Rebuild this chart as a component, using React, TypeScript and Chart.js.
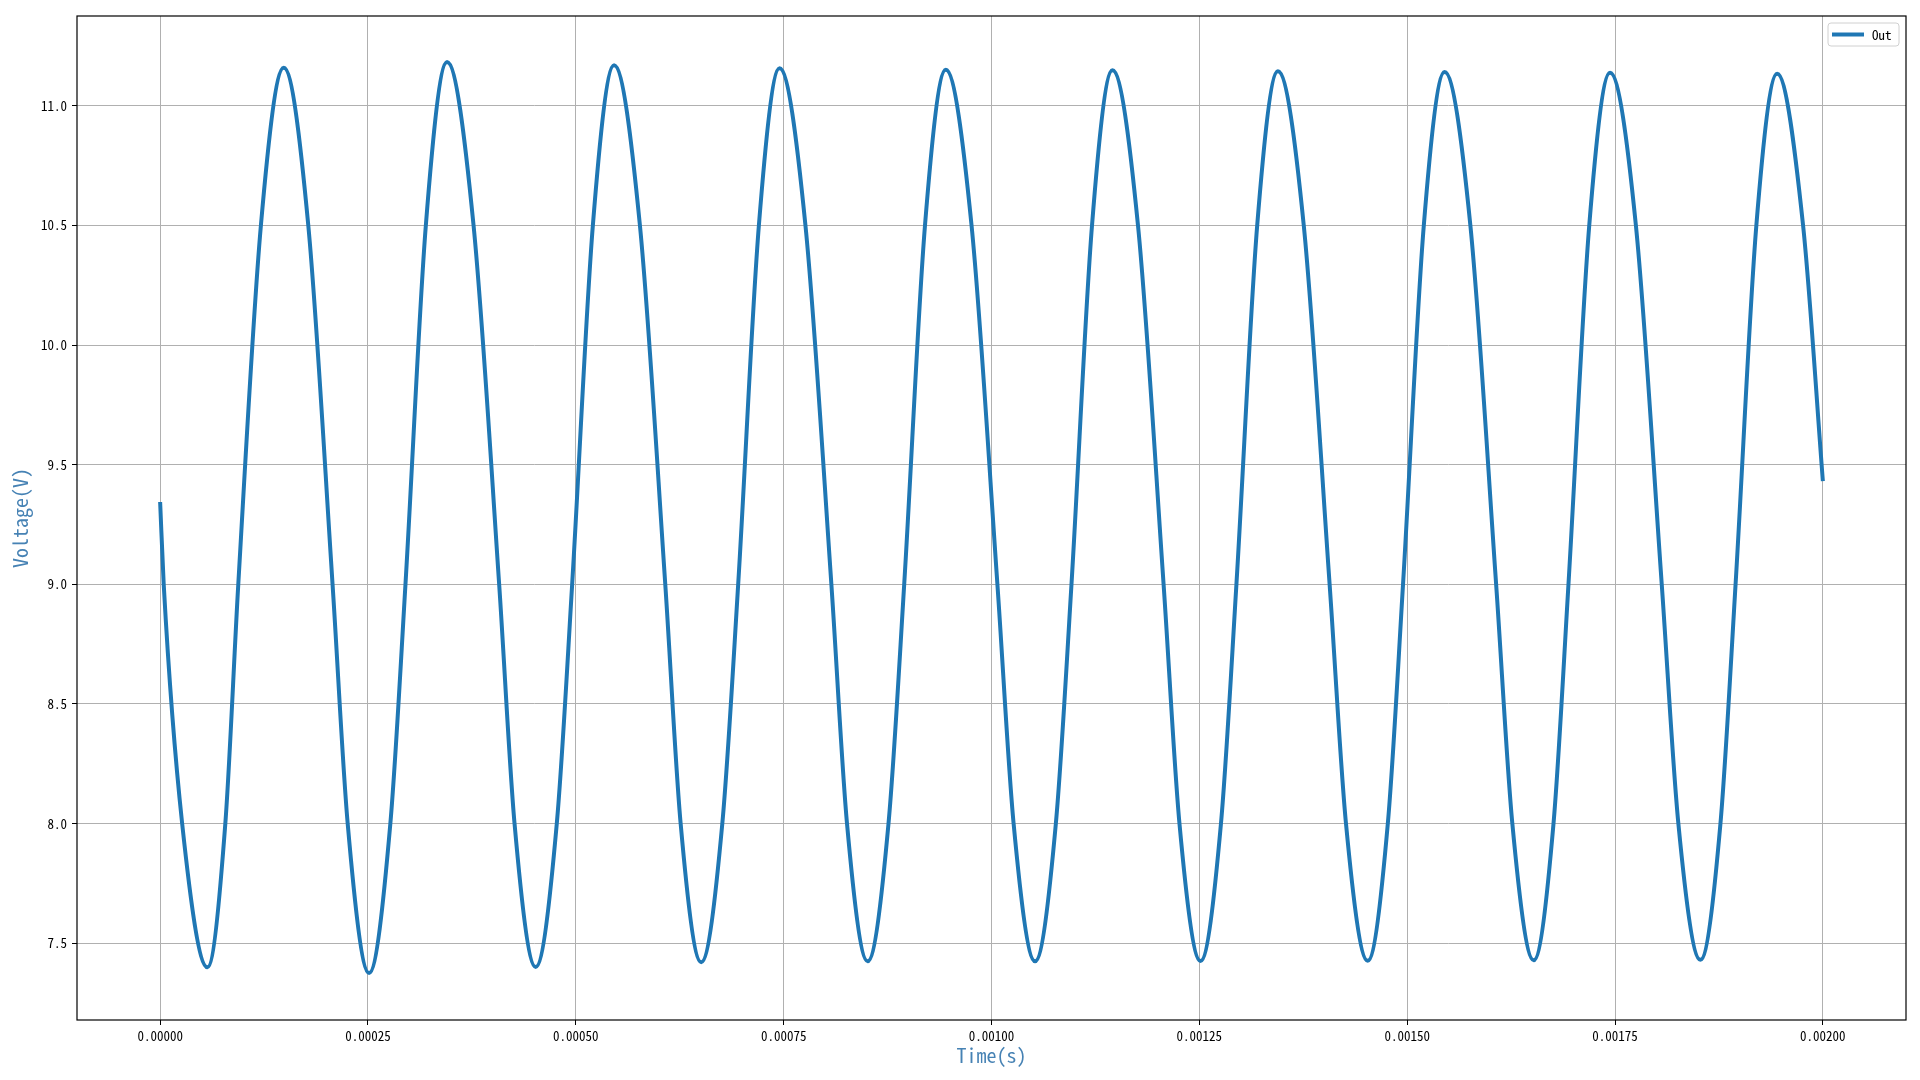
import React, { useEffect, useRef } from "react";
import { Chart, registerables } from "chart.js";

Chart.register(...registerables);

// ---- data ----
const seriesLabel = "Out";
const seriesColor = "#1f77b4";

const timeS = [
  0, 0.0000043, 0.0000265, 0.0000569, 0.0000784, 0.000094, 0.0001212, 0.0001487,
  0.0001782, 0.0002074, 0.0002256, 0.0002513, 0.0002769, 0.0002951, 0.0003196, 0.0003451,
  0.000377, 0.0004078, 0.0004263, 0.0004517, 0.0004771, 0.0004956, 0.0005205, 0.000546,
  0.0005771, 0.0006076, 0.0006261, 0.0006508, 0.0006762, 0.0006953, 0.0007202, 0.000745,
  0.0007762, 0.0008074, 0.0008262, 0.000851, 0.0008761, 0.000895, 0.00092, 0.000945,
  0.000976, 0.0010071, 0.0010266, 0.0010524, 0.0010774, 0.0010962, 0.0011209, 0.0011455,
  0.0011762, 0.001207, 0.0012261, 0.0012514, 0.001276, 0.0012946, 0.0013196, 0.0013445,
  0.0013756, 0.0014067, 0.0014264, 0.0014525, 0.0014767, 0.001495, 0.00152, 0.001545,
  0.001576, 0.001607, 0.0016265, 0.0016522, 0.001676, 0.001694, 0.001719, 0.001744,
  0.0017751, 0.0018062, 0.0018262, 0.0018527, 0.0018768, 0.001895, 0.00192, 0.001945,
  0.0019762, 0.002,
];

const voltageV = [
  9.344, 9.0, 8.0, 7.4, 8.0, 9.0, 10.5, 11.159,
  10.5, 9.0, 8.0, 7.376, 8.0, 9.0, 10.5, 11.183,
  10.5, 9.0, 8.0, 7.401, 8.0, 9.0, 10.5, 11.169,
  10.5, 9.0, 8.0, 7.421, 8.0, 9.0, 10.5, 11.156,
  10.5, 9.0, 8.0, 7.425, 8.0, 9.0, 10.5, 11.15,
  10.5, 9.0, 8.0, 7.425, 8.0, 9.0, 10.5, 11.148,
  10.5, 9.0, 8.0, 7.426, 8.0, 9.0, 10.5, 11.144,
  10.5, 9.0, 8.0, 7.427, 8.0, 9.0, 10.5, 11.141,
  10.5, 9.0, 8.0, 7.429, 8.0, 9.0, 10.5, 11.138,
  10.5, 9.0, 8.0, 7.431, 8.0, 9.0, 10.5, 11.134,
  10.5, 9.431,
];

const xTickValues = [0, 0.00025, 0.0005, 0.00075, 0.001, 0.00125, 0.0015, 0.00175, 0.002];
const yTickValues = [7.5, 8.0, 8.5, 9.0, 9.5, 10.0, 10.5, 11.0];
const xRange = [-0.0001, 0.0021];
const yRange = [7.1795, 11.3748];
const xLabel = "Time(s)";
const yLabel = "Voltage(V)";

const FONT = "'Noto Sans Mono CJK SC', 'DejaVu Sans Mono', monospace";
const AXIS_TITLE_COLOR = "#4682b4";

const framePlugin = {
  id: "frame",
  afterDatasetsDraw(chart: any) {
    const { ctx, chartArea } = chart;
    ctx.save();
    ctx.strokeStyle = "#000";
    ctx.lineWidth = 1.2;
    ctx.strokeRect(chartArea.left, chartArea.top, chartArea.right - chartArea.left, chartArea.bottom - chartArea.top);
    ctx.restore();
  },
};

const legendPlugin = {
  id: "mplLegend",
  afterDraw(chart: any) {
    const { ctx, chartArea } = chart;
    const ds = chart.data.datasets[0];
    ctx.save();
    const bx = chartArea.right - 78;
    const by = chartArea.top + 7;
    const bw = 71;
    const bh = 23;
    const r = 3;
    ctx.beginPath();
    ctx.moveTo(bx + r, by);
    ctx.lineTo(bx + bw - r, by);
    ctx.quadraticCurveTo(bx + bw, by, bx + bw, by + r);
    ctx.lineTo(bx + bw, by + bh - r);
    ctx.quadraticCurveTo(bx + bw, by + bh, bx + bw - r, by + bh);
    ctx.lineTo(bx + r, by + bh);
    ctx.quadraticCurveTo(bx, by + bh, bx, by + bh - r);
    ctx.lineTo(bx, by + r);
    ctx.quadraticCurveTo(bx, by, bx + r, by);
    ctx.closePath();
    ctx.fillStyle = "rgba(255,255,255,0.8)";
    ctx.fill();
    ctx.strokeStyle = "#d0d0d0";
    ctx.lineWidth = 1;
    ctx.stroke();
    const cy = by + bh / 2;
    ctx.beginPath();
    ctx.moveTo(bx + 4, cy);
    ctx.lineTo(bx + 36, cy);
    ctx.strokeStyle = ds.borderColor;
    ctx.lineWidth = 4;
    ctx.stroke();
    ctx.fillStyle = "#000";
    ctx.font = `13px ${FONT}`;
    ctx.textAlign = "left";
    ctx.textBaseline = "middle";
    ctx.fillText(ds.label, bx + 44, cy + 0.5);
    ctx.restore();
  },
};

export default function App() {
  const canvasRef = useRef<HTMLCanvasElement | null>(null);

  useEffect(() => {
    document.body.style.margin = "0";
    const canvas = canvasRef.current;
    if (!canvas) return;
    const points = timeS.map((t, i) => ({ x: t, y: voltageV[i] }));
    const tickFont = { family: FONT, size: 13 };
    const chart = new Chart(canvas, {
      type: "line",
      data: {
        datasets: [
          {
            label: seriesLabel,
            data: points,
            borderColor: seriesColor,
            backgroundColor: seriesColor,
            borderWidth: 4,
            pointRadius: 0,
            fill: false,
            cubicInterpolationMode: "monotone",
            borderCapStyle: "butt",
            borderJoinStyle: "round",
          },
        ],
      },
      options: {
        responsive: false,
        animation: false,
        devicePixelRatio: 1,
        layout: { padding: { left: 0, right: 14, top: 16, bottom: 0 } },
        plugins: { legend: { display: false }, tooltip: { enabled: false } },
        scales: {
          x: {
            type: "linear",
            min: xRange[0],
            max: xRange[1],
            afterBuildTicks: (s: any) => {
              s.ticks = xTickValues.map((v) => ({ value: v }));
            },
            afterFit: (s: any) => {
              s.height = 60;
            },
            ticks: {
              callback: (v: any) => Number(v).toFixed(5),
              font: tickFont,
              color: "#000",
              padding: 3,
              maxRotation: 0,
              autoSkip: false,
            },
            grid: { color: "#b0b0b0", lineWidth: 1, tickColor: "#000", tickLength: 5, tickWidth: 1 },
            border: { display: false },
            title: {
              display: true,
              text: xLabel,
              color: AXIS_TITLE_COLOR,
              font: { family: FONT, size: 20 },
              padding: { top: 0, bottom: 13 },
            },
          },
          y: {
            type: "linear",
            min: yRange[0],
            max: yRange[1],
            afterBuildTicks: (s: any) => {
              s.ticks = yTickValues.map((v) => ({ value: v }));
            },
            afterFit: (s: any) => {
              s.width = 77;
            },
            ticks: {
              callback: (v: any) => Number(v).toFixed(1),
              font: tickFont,
              color: "#000",
              padding: 5,
              autoSkip: false,
            },
            grid: { color: "#b0b0b0", lineWidth: 1, tickColor: "#000", tickLength: 5, tickWidth: 1 },
            border: { display: false },
            title: {
              display: true,
              text: yLabel,
              color: AXIS_TITLE_COLOR,
              font: { family: FONT, size: 20 },
              padding: { top: 8, bottom: 0 },
            },
          },
        },
      },
      plugins: [framePlugin, legendPlugin],
    } as any);
    return () => chart.destroy();
  }, []);

  return (
    <div style={{ position: "absolute", left: 0, top: 0, width: 1920, height: 1080, background: "#fff" }}>
      <canvas ref={canvasRef} width={1920} height={1080} style={{ width: 1920, height: 1080, display: "block" }} />
    </div>
  );
}
